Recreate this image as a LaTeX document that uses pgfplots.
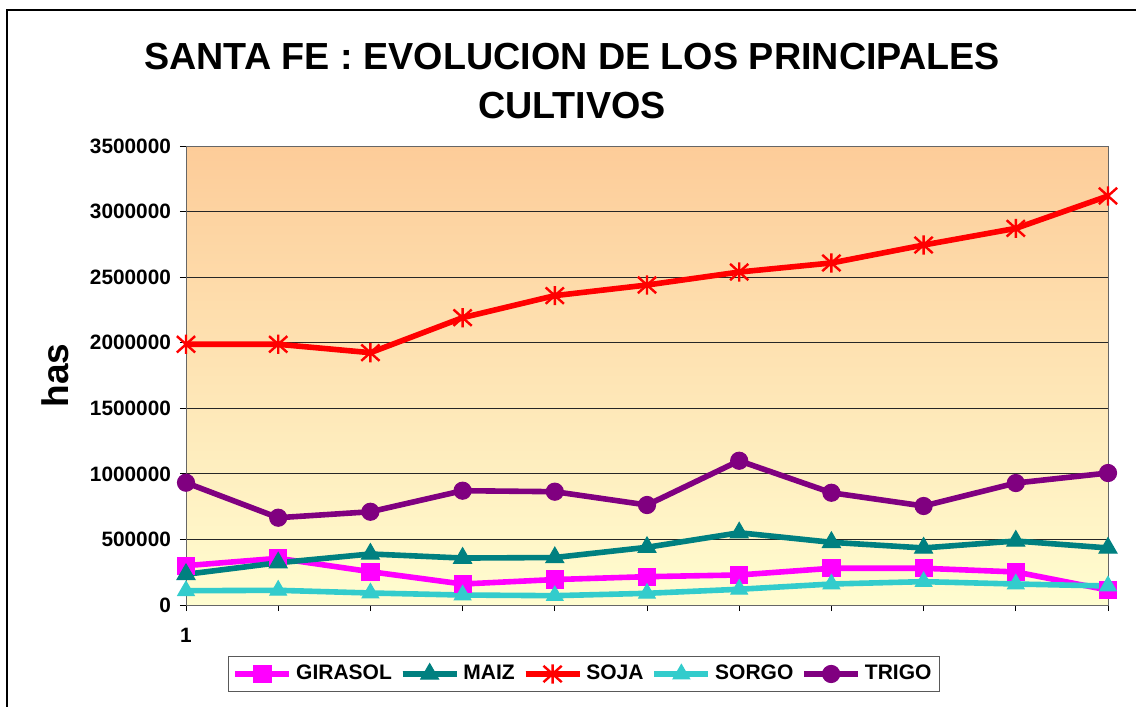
\documentclass[border=0pt]{standalone}
\usepackage{pgfplots}
\pgfplotsset{compat=1.18}
\usepackage{fontspec}
\setmainfont{Liberation Sans}
\definecolor{cGir}{RGB}{255,0,255}
\definecolor{cMaiz}{RGB}{0,128,128}
\definecolor{cSoja}{RGB}{255,0,0}
\definecolor{cSorgo}{RGB}{51,204,204}
\definecolor{cTrigo}{RGB}{128,0,128}
\definecolor{bgTop}{RGB}{253,204,153}
\definecolor{bgBot}{RGB}{255,253,208}
\pgfdeclareplotmark{xstar}{%
  \pgfpathmoveto{\pgfqpoint{0pt}{\pgfplotmarksize}}%
  \pgfpathlineto{\pgfqpoint{0pt}{-\pgfplotmarksize}}%
  \pgfpathmoveto{\pgfqpoint{-0.95\pgfplotmarksize}{0.85\pgfplotmarksize}}%
  \pgfpathlineto{\pgfqpoint{0.95\pgfplotmarksize}{-0.85\pgfplotmarksize}}%
  \pgfpathmoveto{\pgfqpoint{-0.95\pgfplotmarksize}{-0.85\pgfplotmarksize}}%
  \pgfpathlineto{\pgfqpoint{0.95\pgfplotmarksize}{0.85\pgfplotmarksize}}%
  \pgfusepathqstroke}
\begin{document}
\begin{tikzpicture}
\useasboundingbox (0,0) rectangle (568pt,353.5pt);
\draw[black, line width=0.8pt] (3.5pt,-5pt) -- (3.5pt,348.5pt) -- (575pt,348.5pt);
\node[anchor=base, font=\fontsize{18.85}{23}\selectfont\bfseries] at (286pt,318.5pt) {SANTA FE : EVOLUCION DE LOS PRINCIPALES};
\node[anchor=base, font=\fontsize{18.85}{23}\selectfont\bfseries] at (286pt,294pt) {CULTIVOS};
\begin{axis}[
  at={(93pt,51pt)}, anchor=south west,
  scale only axis, width=461pt, height=229.5pt,
  xmin=0, xmax=10, ymin=0, ymax=3500000,
  axis background/.style={top color=bgTop, bottom color=bgBot},
  axis line style={draw=gray!80!black, line width=0.5pt},
  xtick={0,1,...,10}, xticklabels={1},
  ytick={0,500000,...,3500000},
  scaled y ticks=false,
  yticklabel={\pgfmathprintnumber[fixed,use comma,1000 sep={}]{\tick}},
  /pgf/number format/assume math mode=true,
  tick align=outside, tick pos=left,
  major tick length=3pt,
  tick style={black, line width=0.5pt},
  ymajorgrids, grid style={black!85, line width=0.5pt},
  ticklabel style={font=\fontsize{10.4}{12}\selectfont\bfseries},
  yticklabel style={xshift=-1pt},
  xticklabel style={yshift=-5pt},
  ylabel={has}, ylabel style={font=\fontsize{18.5}{22}\selectfont\bfseries, at={(axis description cs:-0.142,0.5)}, anchor=center},
  legend columns=5,
  legend style={at={(axis description cs:0.4317,-0.1503)}, anchor=center, draw=gray!70!black, line width=0.6pt, font=\fontsize{10.5}{12}\selectfont\bfseries, inner xsep=2pt, inner ysep=2.5pt, /tikz/every even column/.append style={column sep=2pt}},
  legend image code/.code={\draw[#1] (0pt,0pt) -- (27pt,0pt); \draw[#1, mark repeat=2, mark phase=2] plot coordinates {(0pt,0pt) (13.5pt,0pt) (27pt,0pt)};},
  every axis plot/.append style={line width=2.8pt},
  clip=false,
]
\addplot[cGir, mark=square*, mark size=4.3pt, mark options={solid, line width=0.5pt}] coordinates {(0,300000) (1,356000) (2,254000) (3,160000) (4,194000) (5,216000) (6,229000) (7,280000) (8,280000) (9,252000) (10,114000)};
\addlegendentry{GIRASOL}
\addplot[cMaiz, mark=triangle*, mark size=5.2pt, mark options={solid, line width=0.5pt}] coordinates {(0,234000) (1,322000) (2,389000) (3,358000) (4,362000) (5,440000) (6,551000) (7,478000) (8,435000) (9,488000) (10,435000)};
\addlegendentry{MAIZ}
\addplot[cSoja, mark=xstar, mark size=4.8pt, mark options={solid, line width=1.2pt}] coordinates {(0,1988000) (1,1988000) (2,1924000) (3,2191000) (4,2359000) (5,2440000) (6,2539000) (7,2608000) (8,2745000) (9,2872000) (10,3119000)};
\addlegendentry{SOJA}
\addplot[cSorgo, mark=triangle*, mark size=4.8pt, mark options={solid, line width=0.5pt}] coordinates {(0,109000) (1,112000) (2,91500) (3,76000) (4,71000) (5,89000) (6,120000) (7,160000) (8,178000) (9,160000) (10,145000)};
\addlegendentry{SORGO}
\addplot[cTrigo, mark=*, mark size=4.3pt, mark options={solid, line width=0.5pt}] coordinates {(0,932600) (1,665600) (2,711000) (3,871600) (4,864000) (5,762500) (6,1100000) (7,856000) (8,755000) (9,930000) (10,1006500)};
\addlegendentry{TRIGO}
\end{axis}
\end{tikzpicture}
\end{document}
